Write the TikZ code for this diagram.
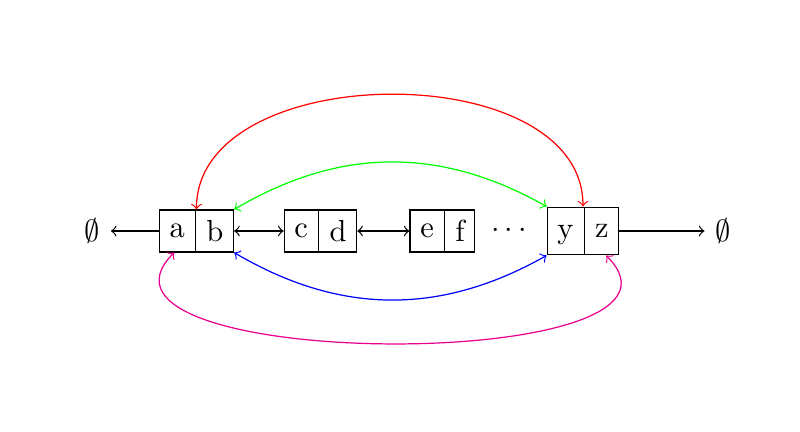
\documentclass[tikz,border=0pt]{standalone}
\usepackage{amsmath,amssymb}
\usepackage{tikz}
\usetikzlibrary{calc, arrows, shapes, shapes.multipart}
\definecolor{mymagenta}{RGB}{230, 0, 140}
\tikzset{cell/.style = {draw, rectangle split, rectangle split horizontal, rectangle split parts = 2}}

\begin{document}
\begin{tikzpicture}
\useasboundingbox (0,0) rectangle (9.219,4.978);
\node (nilL) at (1.066, 2.316) {$\emptyset$};
\node[cell] (ab) at (2.264, 2.316) {a \nodepart{two} b};
\node[cell] (cd) at (3.693, 2.316) {c \nodepart{two} d};
\node[cell] (ef) at (5.099, 2.316) {e \nodepart{two} f};
\node (dots) at (5.894, 2.316) {$\cdots$};
\node[cell] (yz) at (6.718, 2.316) {y\vphantom{b} \nodepart{two} z};
\node (nilR) at (8.331, 2.316) {$\emptyset$};
\draw[->] (ab.west) -- (nilL.east);
\draw[<->] (ab.east) -- (cd.west);
\draw[<->] (cd.east) -- (ef.west);
\draw[->] (yz.east) -- (nilR.west);
\draw[red, <->] (ab.north) to[out = 90, in = 90, looseness = 1] (yz.north);
\draw[green, <->] (ab.north east) to[bend left = 30] (yz.north west);
\draw[blue, <->] (ab.south east) to[bend right = 30] (yz.south west);
\draw[mymagenta, <->] ($(ab.south) + (-7.3pt, 0)$) to[out = -135, in = -45, looseness = 1] ($(yz.south) + (7.6pt, 0)$);
\end{tikzpicture}
\end{document}
